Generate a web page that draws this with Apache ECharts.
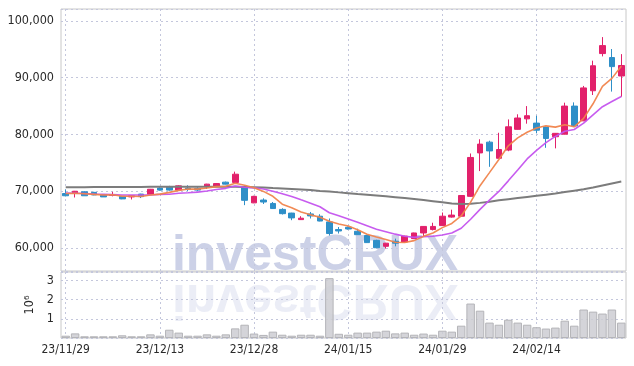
<!DOCTYPE html>
<html><head><meta charset="utf-8">
<script src="https://cdn.jsdelivr.net/npm/echarts@6/dist/echarts.min.js"></script>
<style>html,body{margin:0;padding:0;background:#fff}#c{width:634px;height:366px}</style>
</head><body><div id="c"></div>
<script>
const dates = ['23/11/29','23/11/30','23/12/01','23/12/04','23/12/05','23/12/06','23/12/07','23/12/08','23/12/11','23/12/12',
'23/12/13','23/12/14','23/12/15','23/12/18','23/12/19','23/12/20','23/12/21','23/12/22','23/12/26','23/12/27',
'23/12/28','24/01/02','24/01/03','24/01/04','24/01/05','24/01/08','24/01/09','24/01/10','24/01/11','24/01/12',
'24/01/15','24/01/16','24/01/17','24/01/18','24/01/19','24/01/22','24/01/23','24/01/24','24/01/25','24/01/26',
'24/01/29','24/01/30','24/01/31','24/02/01','24/02/02','24/02/05','24/02/06','24/02/07','24/02/08','24/02/13',
'24/02/14','24/02/15','24/02/16','24/02/19','24/02/20','24/02/21','24/02/22','24/02/23','24/02/26','24/02/27'];
const opens = [69600,69600,69900,69800,69400,69250,69100,69000,69500,69450,70550,70750,70200,70550,70500,70750,70900,71600,71550,70700,
67950,68450,67850,66800,66150,65000,66000,65600,64600,63250,63650,62950,62200,61350,60300,61200,61050,61650,62650,63250,
63950,65450,65600,69100,76750,78650,75800,77250,80900,82750,82000,81300,79600,80050,85000,82400,87700,94250,93550,90300];
const closes = [69200,70000,69200,69350,69000,69400,68650,69200,69050,70350,70200,70200,70950,70300,70200,71250,71350,71250,73000,68400,
69100,68100,66950,66050,65300,65250,65650,64750,62550,63000,63350,62350,60950,60050,60850,60850,62100,62650,63800,63800,
65600,65800,69250,75950,78300,77100,77350,81350,82900,83300,80750,79300,80200,85000,81500,88200,92100,95650,91950,92150];
const lows = [69100,68900,69200,69300,69000,69100,68600,68550,68800,69400,70100,70100,70200,70050,70050,70400,70750,71200,71500,67550,
67900,67750,66900,65900,64900,64950,65200,64700,62200,62550,63250,62300,60900,60000,59900,60300,61000,61600,62100,63100,
63900,65350,65550,69000,73550,74300,75750,77050,80850,81900,80200,77650,77550,80000,81300,82350,86950,93750,87550,86650];
const highs = [70300,70050,70000,69900,69450,69900,69100,69300,69550,70400,70700,70950,71050,71050,70700,71300,71450,71700,73450,70800,
69200,68750,68100,67000,66200,65600,66350,65950,65200,63700,63800,63400,62300,61450,60900,61650,62150,62700,63850,64450,
66250,66750,69300,76650,79150,78900,80300,82650,83550,85000,83300,81400,80250,85600,85650,88550,93000,97150,95050,94150];
const volumes = [0.12,0.24,0.09,0.09,0.09,0.09,0.14,0.09,0.09,0.19,0.12,0.43,0.28,0.12,0.12,0.19,0.12,0.19,0.50,0.69,
0.23,0.16,0.33,0.17,0.12,0.17,0.17,0.12,3.11,0.22,0.17,0.28,0.28,0.33,0.38,0.24,0.28,0.17,0.23,0.17,
0.38,0.33,0.64,1.79,1.42,0.80,0.69,0.95,0.80,0.69,0.56,0.49,0.54,0.90,0.64,1.48,1.37,1.27,1.48,0.80];
const ma5 = [69600,69650,69550,69450,69350,69390,69120,69120,69060,69330,69490,69800,70150,70400,70370,70580,70810,70870,71410,71050,
70620,69970,69110,67720,67100,66330,65840,65400,64700,64240,63860,63200,62440,61940,61510,61010,60960,61300,62050,62640,
63590,64330,65650,68080,70980,73280,75590,78010,79400,80400,81130,81520,81290,81710,81350,82840,85400,88490,89880,92010];
const ma10 = [69700,69650,69600,69500,69450,69400,69350,69350,69350,69340,69440,69460,69640,69730,69850,70040,70310,70510,70910,70710,
70600,70390,69990,69570,69080,68480,67900,67260,66210,65670,65100,64520,63920,63320,62880,62440,62080,61870,62000,62080,
62300,62650,63480,65070,66810,68440,69960,71830,73740,75690,77200,78560,79650,80560,80880,81990,83460,84890,85800,86680];
const ma60 = [70700,70700,70700,70750,70750,70750,70750,70750,70750,70800,70800,70800,70800,70800,70800,70800,70800,70800,70800,70750,
70700,70650,70550,70500,70400,70300,70200,70050,69950,69800,69650,69500,69400,69250,69100,68950,68800,68650,68450,68250,
68050,67850,67750,67800,67950,68150,68400,68600,68800,69000,69200,69400,69600,69850,70100,70350,70650,71000,71350,71700];

const candles = dates.map((d, i) => [opens[i], closes[i], lows[i], highs[i]]);
const volData = volumes.map(v => v * 1e6);

const FONT = "'DejaVu Sans'";
const STRETCH = 'condensed';
const UP = '#e2216b', DOWN = '#2e8fc8';
const gridLine = {show: true, lineStyle: {color: '#c4c7dc', type: [2, 3], width: 1}};
const lbl = {fontFamily: FONT, fontWeight: STRETCH, fontSize: 12, color: '#2a2a2a'};
const WM_FONT = "bold 50px 'Liberation Sans', Arial, sans-serif";

const chart = echarts.init(document.getElementById('c'));
chart.setOption({
  animation: false,
  backgroundColor: '#fff',
  graphic: [
    {type: 'text', x: 315, y: 281, z: 0, silent: true,
     style: {text: 'investCRUX', font: WM_FONT, fill: '#c6cce4',
             textAlign: 'center', textVerticalAlign: 'bottom', opacity: 0.9}},
    {type: 'text', x: 315, y: 274, scaleY: -1, z: 0, silent: true,
     style: {text: 'investCRUX', font: WM_FONT, fill: '#c6cce4',
             textAlign: 'center', textVerticalAlign: 'bottom', opacity: 0.35}}
  ],
  grid: [
    {left: 61, right: 8, top: 9, height: 262, show: true, borderColor: '#c8c8c8', borderWidth: 1, backgroundColor: 'transparent'},
    {left: 61, right: 8, top: 272, height: 66, show: true, borderColor: '#c8c8c8', borderWidth: 1, backgroundColor: 'transparent'}
  ],
  xAxis: [
    {type: 'category', gridIndex: 0, data: dates, boundaryGap: true,
     axisLine: {show: false}, axisTick: {show: false}, axisLabel: {show: false},
     splitLine: Object.assign({interval: 9, alignWithLabel: true}, gridLine)},
    {type: 'category', gridIndex: 1, data: dates, boundaryGap: true,
     axisLine: {show: false}, axisTick: {show: false, alignWithLabel: true},
     axisLabel: Object.assign({interval: 9, margin: 6}, lbl),
     splitLine: Object.assign({interval: 9, alignWithLabel: true}, gridLine)}
  ],
  yAxis: [
    {type: 'value', gridIndex: 0, min: 55950, max: 102100, splitNumber: 5, scale: true,
     axisLine: {show: false}, axisTick: {show: false},
     axisLabel: Object.assign({margin: 7,
       formatter: v => (v % 10000 === 0 ? v.toLocaleString('en-US') : '')}, lbl, {fontSize: 12.5}),
     splitLine: gridLine},
    {type: 'value', gridIndex: 1, min: 0, max: 3.43e6, interval: 1e6,
     name: '10\u2076', nameLocation: 'middle', nameRotate: 90, nameGap: 24,
     nameTextStyle: Object.assign({}, lbl, {fontSize: 12.5}),
     axisLine: {show: false}, axisTick: {show: false},
     axisLabel: Object.assign({margin: 7, showMinLabel: false, showMaxLabel: false,
       formatter: v => (v > 0 && v % 1e6 === 0 ? String(v / 1e6) : '')}, lbl, {fontSize: 12.5}),
     splitLine: gridLine}
  ],
  series: [
    {type: 'candlestick', xAxisIndex: 0, yAxisIndex: 0, data: candles, barWidth: '66%', z: 3,
     itemStyle: {color: UP, color0: DOWN, borderColor: UP, borderColor0: DOWN, borderWidth: 1}},
    {type: 'line', xAxisIndex: 0, yAxisIndex: 0, data: ma60, showSymbol: false, z: 4,
     lineStyle: {color: '#7c7c7c', width: 2}},
    {type: 'line', xAxisIndex: 0, yAxisIndex: 0, data: ma10, showSymbol: false, z: 4,
     lineStyle: {color: '#c453ee', width: 1.6, opacity: 0.95}},
    {type: 'line', xAxisIndex: 0, yAxisIndex: 0, data: ma5, showSymbol: false, z: 4,
     lineStyle: {color: '#f0844c', width: 1.6, opacity: 0.95}},
    {type: 'bar', xAxisIndex: 1, yAxisIndex: 1, data: volData, barCategoryGap: '10%', z: 3,
     itemStyle: {color: 'rgba(205,205,210,0.85)', borderColor: '#b4b4b8', borderWidth: 1}}
  ]
});
</script></body></html>
